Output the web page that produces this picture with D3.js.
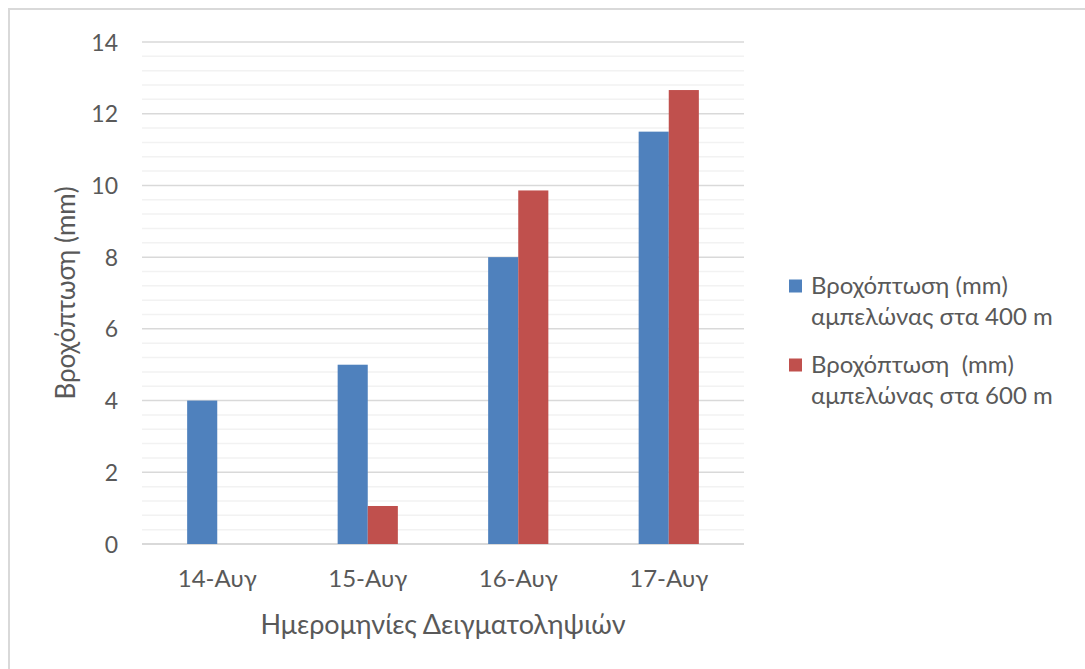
<!DOCTYPE html>
<html><head><meta charset="utf-8">
<script src="https://cdn.jsdelivr.net/npm/d3@7"></script>
<style>body{margin:0;background:#fff}svg{display:block}text{font-family:Lato,"Noto Sans",sans-serif;fill:#595959}</style>
</head><body>
<script>
const categories = ["14-Αυγ","15-Αυγ","16-Αυγ","17-Αυγ"];
const series400 = [4, 5, 8, 11.5];
const series600 = [0, 1.06, 9.86, 12.66];
const seriesNames = ["Βροχόπτωση (mm)|αμπελώνας στα 400 m", "Βροχόπτωση  (mm)|αμπελώνας στα 600 m"];
const yTicks = [0,2,4,6,8,10,12,14];
const colors = ["#4F81BD","#C0504D"];
const xTitle = "Ημερομηνίες Δειγματοληψιών";
const yTitle = "Βροχόπτωση (mm)";

(function(){
const W=1085,H=669;
const svg=d3.select("body").append("svg").attr("width",W).attr("height",H);
svg.append("rect").attr("x",9).attr("y",9).attr("width",1200).attr("height",800).attr("fill","none").attr("stroke","#d9d9d9").attr("stroke-width",2);

const pL=142,pR=744,pT=42,pB=544;
const x=d3.scaleBand().domain(categories).range([pL,pR]).paddingInner(0.6).paddingOuter(0.3);
const y=d3.scaleLinear().domain([0,14]).range([pB,pT]);
const x1=d3.scaleBand().domain([0,1]).range([0,x.bandwidth()]);

const minor=d3.range(0,14.001,0.4).filter(v=>Math.abs(v/2-Math.round(v/2))>1e-6);
svg.append("g").selectAll("line").data(minor).join("line")
 .attr("x1",pL).attr("x2",pR).attr("y1",d=>y(d)).attr("y2",d=>y(d))
 .attr("stroke","#f2f2f2").attr("stroke-width",1.5);
svg.append("g").selectAll("line").data(yTicks).join("line")
 .attr("x1",pL).attr("x2",pR).attr("y1",d=>y(d)).attr("y2",d=>y(d))
 .attr("stroke","#d9d9d9").attr("stroke-width",d=>d===0?2:1.5);

const data=[series400,series600];
data.forEach((s,i)=>{
 svg.append("g").selectAll("rect").data(s).join("rect")
  .attr("x",(d,j)=>x(categories[j])+x1(i)).attr("width",x1.bandwidth())
  .attr("y",d=>y(d)).attr("height",d=>y(0)-y(d)).attr("fill",colors[i]);
});

const yAxis=d3.axisLeft(y).tickValues(yTicks).tickSize(0).tickPadding(0);
const gy=svg.append("g").attr("transform",`translate(118,0)`).call(yAxis);
gy.select(".domain").remove();
gy.attr("font-family",null).attr("font-size",null);
gy.selectAll("text").style("font-size","23px").attr("fill","#595959").attr("dy","0.35em");

const xAxis=d3.axisBottom(x).tickSize(0).tickPadding(0);
const gx=svg.append("g").attr("transform",`translate(0,579)`).call(xAxis);
gx.select(".domain").remove();
gx.attr("font-family",null).attr("font-size",null);
gx.selectAll("text").style("font-size","24px").attr("fill","#595959").attr("dy","0.35em");

svg.append("text").attr("x",(pL+pR)/2).attr("y",625).attr("dy","0.35em").attr("text-anchor","middle").style("font-size","27px").text(xTitle);
svg.append("text").attr("transform",`translate(66,${(pT+pB)/2}) rotate(-90)`).attr("dy","0.35em").attr("text-anchor","middle").style("font-size","26px").text(yTitle);

const leg=svg.append("g");
seriesNames.forEach((n,i)=>{
 const yy=286+i*79;
 leg.append("rect").attr("x",789).attr("y",yy-6.5).attr("width",13).attr("height",13).attr("fill",colors[i]);
 n.split("|").forEach((l,k)=>{
  leg.append("text").attr("x",811).attr("y",yy+k*31).attr("dy","0.35em").style("font-size","24px").style("white-space","pre").text(l);
 });
});
})();
</script>
</body></html>
